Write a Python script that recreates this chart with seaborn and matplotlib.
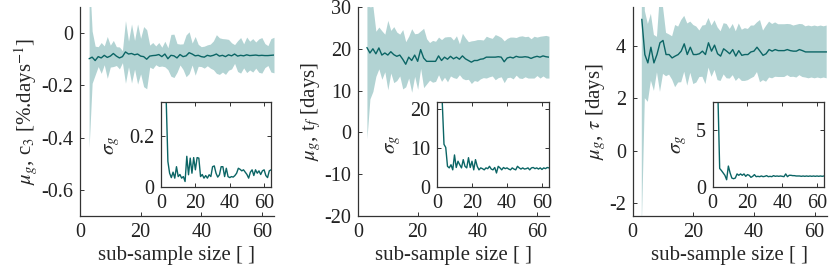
import numpy as np
import pandas as pd
import matplotlib
matplotlib.use("Agg")
import matplotlib.pyplot as plt
import seaborn as sns

# sub-sample sizes
sizes = list(range(3, 65))

# panel 1: mu_g, c3 and sigma_g
c3_mean = [-0.098, -0.092, -0.105, -0.090, -0.095, -0.085, -0.093, -0.088, -0.078, -0.088,
           -0.095, -0.090, -0.072, -0.080, -0.078, -0.083, -0.080, -0.088, -0.090, -0.100,
           -0.088, -0.086, -0.085, -0.082, -0.090, -0.080, -0.098, -0.085, -0.087, -0.095,
           -0.082, -0.090, -0.087, -0.075, -0.080, -0.087, -0.085, -0.090, -0.092, -0.085,
           -0.088, -0.085, -0.080, -0.088, -0.085, -0.090, -0.083, -0.087, -0.080, -0.088,
           -0.085, -0.087, -0.083, -0.086, -0.085, -0.084, -0.086, -0.085, -0.086, -0.086,
           -0.085, -0.084]
c3_sigma = [0.34, 0.10, 0.055, 0.038, 0.059, 0.036, 0.080, 0.042, 0.050, 0.036,
            0.042, 0.023, 0.120, 0.049, 0.113, 0.055, 0.115, 0.068, 0.115, 0.113,
            0.042, 0.050, 0.036, 0.046, 0.036, 0.049, 0.042, 0.080, 0.083, 0.055,
            0.040, 0.049, 0.080, 0.080, 0.042, 0.074, 0.042, 0.038, 0.042, 0.040,
            0.046, 0.055, 0.074, 0.070, 0.064, 0.068, 0.059, 0.050, 0.036, 0.059,
            0.068, 0.046, 0.068, 0.055, 0.064, 0.050, 0.064, 0.068, 0.046, 0.038,
            0.064, 0.068]

# panel 2: mu_g, t_f and sigma_g
tf_mean = [20.3, 19.0, 20.0, 18.8, 20.2, 18.5, 19.0, 18.5, 19.3, 18.6,
           18.2, 18.5, 17.5, 16.3, 18.0, 17.2, 18.5, 17.0, 19.8, 17.8,
           17.0, 17.0, 17.0, 17.0, 18.3, 17.2, 18.0, 17.5, 18.2, 17.6,
           18.0, 17.5, 18.3, 17.6, 17.2, 16.8, 17.2, 17.2, 17.5, 17.6,
           18.0, 18.0, 18.0, 18.0, 18.1, 18.0, 16.9, 17.8, 18.0, 17.8,
           18.2, 18.0, 18.0, 18.1, 18.0, 17.7, 18.0, 18.2, 18.0, 18.3,
           18.1, 18.0]
tf_sigma = [21.8, 11.0, 10.2, 5.4, 5.0, 5.8, 4.5, 8.3, 5.1, 6.7,
            5.8, 5.0, 7.1, 5.4, 5.0, 7.6, 5.1, 6.7, 4.5, 7.1,
            5.4, 4.5, 5.0, 4.8, 4.5, 5.0, 4.8, 5.4, 4.7, 4.5,
            5.1, 3.7, 5.4, 5.0, 4.5, 5.1, 4.8, 5.0, 4.7, 4.5,
            5.0, 4.7, 4.5, 5.4, 5.0, 4.7, 5.0, 4.7, 4.8, 5.0,
            4.5, 5.0, 5.1, 4.8, 5.0, 4.7, 5.0, 4.6, 5.0, 4.8,
            5.1, 5.0]

# panel 3: mu_g, tau and sigma_g
tau_mean = [5.03, 3.68, 3.36, 3.96, 3.36, 3.68, 4.13, 4.22, 3.68, 3.68,
            3.55, 3.62, 3.68, 3.81, 4.09, 3.68, 3.96, 3.68, 3.68, 3.71,
            3.81, 3.68, 4.13, 3.81, 4.04, 3.71, 3.62, 3.90, 3.81, 3.71,
            3.87, 3.62, 3.83, 3.65, 3.68, 3.68, 3.78, 3.81, 3.96, 3.81,
            3.65, 3.71, 3.87, 3.81, 3.87, 3.83, 3.83, 3.83, 3.87, 3.83,
            3.81, 3.81, 3.87, 3.83, 3.78, 3.78, 3.78, 3.78, 3.78, 3.78,
            3.78, 3.78]
tau_sigma = [8.0, 1.67, 1.49, 1.28, 1.07, 0.68, 1.88, 1.28, 0.83, 0.77,
             0.83, 1.19, 1.07, 1.19, 1.07, 1.19, 0.98, 1.13, 1.07, 0.89,
             0.98, 1.13, 0.95, 0.98, 0.95, 1.01, 0.95, 0.98, 1.04, 0.95,
             0.98, 0.95, 1.04, 0.98, 1.01, 0.98, 1.01, 0.98, 0.95, 1.19,
             0.95, 1.07, 1.07, 1.04, 1.04, 1.01, 1.01, 1.01, 0.98, 1.01,
             0.98, 1.01, 0.98, 1.01, 0.98, 1.01, 0.98, 1.01, 0.98, 1.01,
             0.98, 1.01]

ylabels = [r'$\mu_g$, c$_3$ [%.days$^{-1}$]', r'$\mu_g$, t$_f$ [days]', r'$\mu_g$, $\tau$ [days]']
main_ylims = [(-0.7, 0.1), (-20, 30), (-2.5, 5.5)]
main_yticks = [[-0.6, -0.4, -0.2, 0], [-20, -10, 0, 10, 20, 30], [-2, 0, 2, 4]]
inset_ylims = [(0, 0.327), (0, 21.8), (0, 7.5)]
inset_yticks = [[0, 0.2], [0, 10, 20], [0, 5]]
xticks = [0, 20, 40, 60]

line_col = '#0b6565'
fill_col = '#b2d3d3'
spine_col = '#333333'

sns.set_theme(style='ticks')
plt.rcParams['font.family'] = ['Liberation Serif', 'DejaVu Serif']
plt.rcParams['mathtext.fontset'] = 'stix'
plt.rcParams['axes.unicode_minus'] = False
plt.rcParams['font.size'] = 14
plt.rcParams['xtick.direction'] = 'in'
plt.rcParams['ytick.direction'] = 'in'

fig = plt.figure(figsize=(8.3, 2.73), dpi=100)

main_rects = [[0.0964, 0.2088, 0.2337, 0.7656],
              [0.4313, 0.2088, 0.2301, 0.7656],
              [0.7623, 0.2088, 0.2337, 0.7656]]
inset_rects = [[0.194, 0.3132, 0.1325, 0.3114],
               [0.5265, 0.3132, 0.1349, 0.3132],
               [0.8587, 0.3132, 0.1340, 0.3132]]

series = [(c3_mean, c3_sigma), (tf_mean, tf_sigma), (tau_mean, tau_sigma)]

tick_fs = 14.5
label_fs = 15


def fmt(v):
    return '{:g}'.format(v)


for i, (mean, sigma) in enumerate(series):
    df = pd.DataFrame({'n': sizes, 'mean': mean, 'sigma': sigma})
    lo = df['mean'] - df['sigma']
    hi = df['mean'] + df['sigma']

    ax = fig.add_axes(main_rects[i])
    ax.fill_between(df['n'], lo, hi, color=fill_col, lw=0)
    sns.lineplot(data=df, x='n', y='mean', ax=ax, color=line_col, lw=1.0)
    ax.set_xlim(0, 64)
    ax.set_ylim(*main_ylims[i])
    ax.set_xticks(xticks)
    ax.set_yticks(main_yticks[i], [fmt(v) for v in main_yticks[i]])
    ax.set_xlabel('sub-sample size [ ]', fontsize=label_fs, labelpad=3)
    ax.set_ylabel(ylabels[i], fontsize=label_fs, labelpad=1)
    sns.despine(ax=ax)
    for s in ['left', 'bottom']:
        ax.spines[s].set_color(spine_col)
        ax.spines[s].set_linewidth(0.9)
    ax.tick_params(labelsize=tick_fs, length=3, width=0.7, colors=spine_col, labelcolor='#222222', pad=5)

    axin = fig.add_axes(inset_rects[i])
    sns.lineplot(data=df, x='n', y='sigma', ax=axin, color=line_col, lw=1.0)
    axin.set_xlim(0, 64)
    axin.set_ylim(*inset_ylims[i])
    axin.set_xticks(xticks)
    axin.set_yticks(inset_yticks[i], [fmt(v) for v in inset_yticks[i]])
    axin.set_xlabel('')
    axin.set_ylabel(r'$\sigma_g$', fontsize=label_fs, labelpad=5)
    for s in axin.spines.values():
        s.set_color(spine_col)
        s.set_linewidth(0.9)
    axin.tick_params(labelsize=tick_fs, length=3, width=0.7, colors=spine_col, labelcolor='#222222',
                     top=True, right=True, pad=5)

fig.savefig('out.png', dpi=100)
